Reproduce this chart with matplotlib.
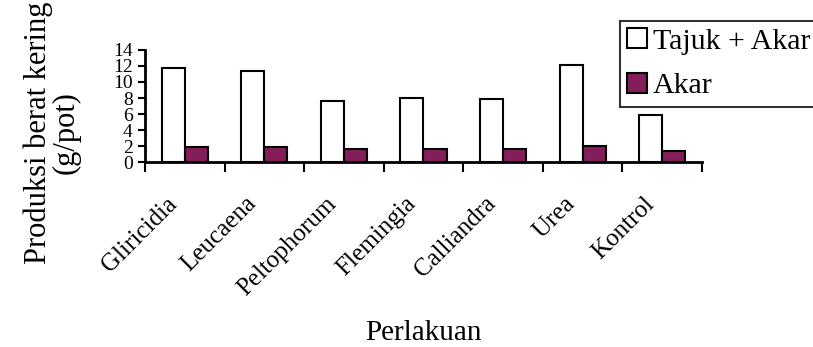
import matplotlib.pyplot as plt
import matplotlib.transforms as mtransforms
import numpy as np

# Data produksi berat kering (g/pot)
perlakuan = ['Gliricidia', 'Leucaena', 'Peltophorum', 'Flemingia',
             'Calliandra', 'Urea', 'Kontrol']
tajuk_akar = [11.7, 11.4, 7.6, 8.0, 7.85, 12.15, 5.9]
akar = [1.9, 1.9, 1.6, 1.6, 1.6, 2.0, 1.35]

plt.rcParams['font.family'] = ['Liberation Serif', 'DejaVu Serif']

fig = plt.figure(figsize=(8.13, 3.47), dpi=100)
ax = fig.add_axes([0.1784, 0.533, 0.685, 0.323])

x = np.arange(len(perlakuan))
w = 0.29
ax.bar(x - w / 2, tajuk_akar, w, color='white', edgecolor='black',
       linewidth=1.5, label='Tajuk + Akar')
ax.bar(x + w / 2, akar, w, color='#841E5A', edgecolor='black',
       linewidth=1.5, label='Akar')

ax.set_xlim(-0.5, len(perlakuan) - 0.5)
ax.set_ylim(0, 14)
ax.set_yticks(range(0, 15, 2))
ax.tick_params(axis='y', direction='out', length=5, width=1.5, labelsize=14, pad=4)

# garis tick di batas kategori, label di tengah
ax.set_xticks(np.arange(-0.5, len(perlakuan), 1.0))
ax.set_xticklabels([])
ax.tick_params(axis='x', which='major', direction='out', length=7, width=1.5)
ax.set_xticks(x, minor=True)
ax.set_xticklabels(perlakuan, minor=True, rotation=45, ha='right',
                   rotation_mode='anchor', fontsize=18)
ax.tick_params(axis='x', which='minor', length=0, pad=22)
geser = mtransforms.ScaledTranslation(-0.19, 0, fig.dpi_scale_trans)
for lbl in ax.get_xticklabels(minor=True):
    lbl.set_transform(lbl.get_transform() + geser)

for s in ['top', 'right']:
    ax.spines[s].set_visible(False)
for s in ['left', 'bottom']:
    ax.spines[s].set_linewidth(2)

fig.text(52 / 813, 1 - 133 / 347, 'Produksi berat kering\n(g/pot)', rotation=90,
         ha='center', va='center', fontsize=22, linespacing=0.9)
fig.text(423 / 813, 1 - 333 / 347, 'Perlakuan', ha='center', va='center', fontsize=21)

leg = fig.legend(loc='upper left', bbox_to_anchor=(620 / 813, 1 - 21 / 347),
                 fontsize=21.5, frameon=True, fancybox=False, edgecolor='black',
                 handlelength=0.65, handleheight=0.65, handletextpad=0.2,
                 borderpad=0.25, labelspacing=0.6, borderaxespad=0)
leg.get_frame().set_linewidth(1.5)

fig.savefig('out.png', dpi=100)
